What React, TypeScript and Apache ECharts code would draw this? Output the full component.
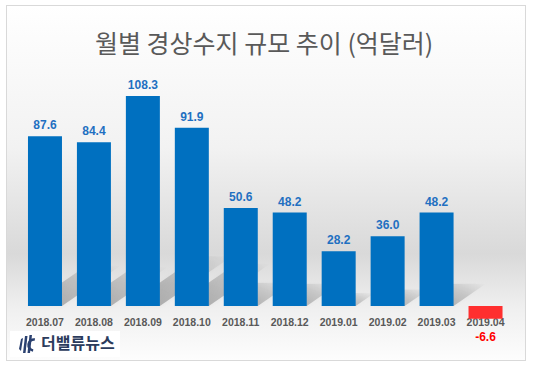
import React, { useEffect, useRef } from "react";
import * as echarts from "echarts";

const categories = ["2018.07", "2018.08", "2018.09", "2018.10", "2018.11", "2018.12", "2019.01", "2019.02", "2019.03", "2019.04"];
const values = [87.6, 84.4, 108.3, 91.9, 50.6, 48.2, 28.2, 36.0, 48.2, -6.6];
const titleText = "월별 경상수지 규모 추이 (억달러)";
const logoText = "더밸류뉴스";

export default function App() {
  const ref = useRef<HTMLDivElement>(null);
  useEffect(() => {
    if (!ref.current) return;
    const chart = echarts.init(ref.current, null, { renderer: "svg" });
    const barData = values.map((v) => ({
      value: v,
      itemStyle: { color: v < 0 ? "#FF2F2F" : "#0070C0" },
      label: v < 0
        ? { position: "bottom", distance: 12, color: "#FF0000" }
        : { position: "top", distance: 5, color: "#1F70C1" },
    }));
    const navy = "#2B4170";
    const logo: any[] = [
      { id: "logoBg", type: "rect", left: 10, top: 331, shape: { width: 110, height: 26 }, style: { fill: "#ffffff" }, z: 10 },
      { id: "l1", type: "polygon", z: 11, shape: { points: [[21, 339], [23, 338], [21, 351], [19, 349]] }, style: { fill: navy } },
      { id: "l2", type: "polygon", z: 11, shape: { points: [[25, 336], [27.5, 336], [25.5, 353], [23, 353]] }, style: { fill: navy } },
      { id: "l3", type: "polygon", z: 11, shape: { points: [[29.5, 335], [32, 335], [30, 353], [27.5, 353]] }, style: { fill: navy } },
      { id: "l4", type: "arc", z: 11, shape: { cx: 34, cy: 345, r: 5.5, startAngle: Math.PI * 0.55, endAngle: Math.PI * 1.55 }, style: { stroke: navy, lineWidth: 2.5, fill: null } },
      {
        id: "logoText",
        type: "text",
        left: 41,
        top: 334,
        z: 11,
        style: { text: logoText, fontFamily: "Noto Sans CJK KR", fontSize: 16, fontWeight: "bold", fill: "#2B3B5C" },
      },
    ];
    chart.setOption({
      animation: false,
      backgroundColor: "transparent",
      title: {
        text: titleText,
        left: 90,
        top: 24,
        textStyle: { fontFamily: "Noto Sans CJK KR", fontSize: 25, fontWeight: "normal", color: "#595959" },
      },
      grid: { left: 20.5, right: 23, top: 73.3, bottom: 61 },
      xAxis: {
        type: "category",
        data: categories,
        axisLine: { show: false },
        axisTick: { show: false },
        axisLabel: {
          interval: 0,
          margin: 10,
          fontFamily: "Liberation Sans",
          fontSize: 10.5,
          fontWeight: "bold",
          color: "#595959",
        },
      },
      yAxis: {
        type: "value",
        min: 0,
        max: 120,
        axisLine: { show: false },
        axisTick: { show: false },
        axisLabel: { show: false },
        splitLine: { show: false },
      },
      series: [
        {
          type: "bar",
          z: 3,
          clip: false,
          barWidth: 34,
          data: barData,
          label: {
            show: true,
            fontFamily: "Liberation Sans",
            fontSize: 12,
            fontWeight: "bold",
            formatter: (p: any) => Number(p.value).toFixed(1),
          },
        },
      ],
      graphic: logo,
    });
    // cast shadows behind positive bars, positioned through the chart's own scales
    const shadows: any[] = [];
    values.forEach((v, i) => {
      if (v <= 0) return;
      const p = chart.convertToPixel({ xAxisIndex: 0, yAxisIndex: 0 }, [i, 0]) as number[];
      const t = chart.convertToPixel({ xAxisIndex: 0, yAxisIndex: 0 }, [i, v]) as number[];
      const h = p[1] - t[1];
      const hw = 17;
      const dy = h * 0.237;
      const dx = dy * 1.45;
      shadows.push({
        id: "shadow" + i,
        type: "polygon",
        z: 1,
        silent: true,
        shape: {
          points: [
            [p[0] - hw, p[1]],
            [p[0] + hw, p[1]],
            [p[0] + hw + dx, p[1] - dy],
            [p[0] - hw + dx, p[1] - dy],
          ],
        },
        style: {
          fill: new echarts.graphic.LinearGradient(0, 1, 1, 0, [
            { offset: 0, color: "rgba(0,0,0,0.30)" },
            { offset: 0.6, color: "rgba(0,0,0,0.14)" },
            { offset: 1, color: "rgba(0,0,0,0)" },
          ]),
          shadowBlur: 4,
          shadowColor: "rgba(0,0,0,0.12)",
        },
      });
    });
    chart.setOption({ graphic: [...logo, ...shadows] });
    return () => chart.dispose();
  }, []);
  return (
    <div style={{ position: "absolute", left: 0, top: 0, width: 533, height: 367, background: "#ffffff" }}>
      <div
        style={{
          position: "absolute",
          left: 6,
          top: 5,
          width: 518,
          height: 354,
          border: "1px solid #D9D9D9",
          background: "linear-gradient(to bottom, #ffffff 0%, #f2f2f2 40%, #d9d9d9 70%, #efefef 85%, #fdfdfd 100%)",
        }}
      />
      <div ref={ref} style={{ position: "absolute", left: 0, top: 0, width: 533, height: 367 }} />
    </div>
  );
}
